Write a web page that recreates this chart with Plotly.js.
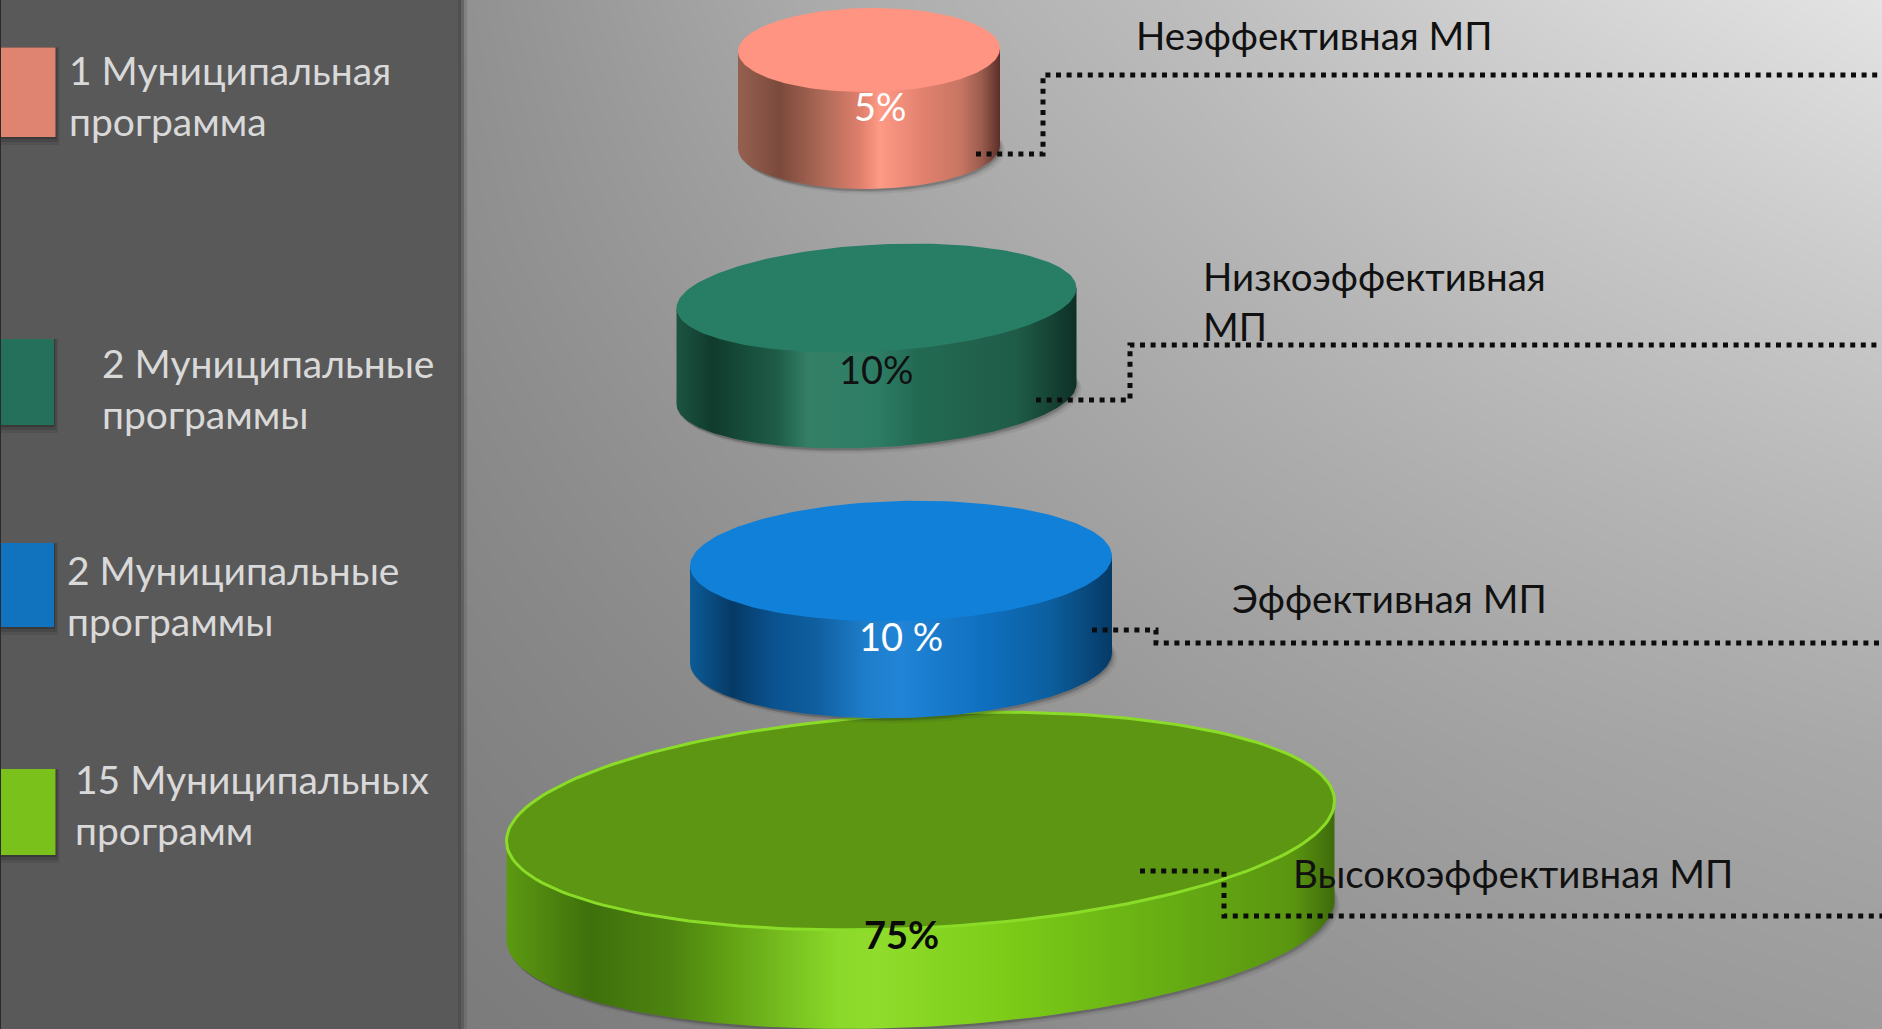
<!DOCTYPE html>
<html><head><meta charset="utf-8">
<script src="https://cdn.plot.ly/plotly-3.0.1.min.js"></script>
<style>html,body{margin:0;padding:0;background:#8f8f8f;overflow:hidden}#chart{width:1882px;height:1029px}</style>
</head><body><div id="chart"></div>
<script>
// ---- chart content ----
const categories = ['Неэффективная МП', 'Низкоэффективная<br>МП', 'Эффективная МП', 'Высокоэффективная МП'];
const shares = ['5%', '10%', '10 %', '75%'];
const programmeLabels = ['1 Муниципальная<br>программа', '2 Муниципальные<br>программы', '2 Муниципальные<br>программы', '15 Муниципальных<br>программ'];

// ---- styling ----
const topColors = ['#fe9481', '#287d65', '#1180d8', '#5c9613'];
const swatchColors = ['#e08472', '#25705a', '#1173bd', '#7ac11c'];
const shareColors = ['#ffffff', '#111111', '#ffffff', '#0a0a0a'];
const sideScales = [
  [[0,'#96604f'],[0.16,'#7b4a3c'],[0.33,'#b06a58'],[0.47,'#e0806d'],[0.54,'#fe9a86'],[0.7,'#e2826f'],[0.85,'#c87563'],[0.93,'#9a5c4e'],[1,'#5c2e28']],
  [[0,'#1c5441'],[0.09,'#103b2d'],[0.25,'#1e5c48'],[0.33,'#348066'],[0.5,'#2d7d65'],[0.6,'#236a53'],[0.85,'#1f5c48'],[1,'#0e3026']],
  [[0,'#0c5c97'],[0.1,'#063a66'],[0.2,'#0a5290'],[0.3,'#0f5f9f'],[0.42,'#1f7ecb'],[0.5,'#2184d6'],[0.7,'#0f6fbf'],[0.85,'#0c5f9f'],[1,'#063a66']],
  [[0,'#5d9a12'],[0.1,'#3f700c'],[0.2,'#4d8410'],[0.27,'#62a214'],[0.4,'#8bd92a'],[0.45,'#90dc2c'],[0.6,'#7ccc18'],[0.8,'#66ad13'],[0.95,'#5a9510'],[1,'#3f6b0b']]
];

// ---- page geometry (pixel layout of the slide) ----
const discCx = [869, 876.5, 901, 920.5];
const discCy = [50, 298, 561, 821];
const discRx = [131, 200, 211, 414];
const discRy = [42, 53.5, 60, 107];
const discTilt = [-1.5, -10, -5, -20];
const discDepth = [97, 96, 97, 99];
const drawOrder = [3, 2, 1, 0];
const swatchTop = [47.5, 339, 543, 769];
const swatchBottom = [137, 425, 627, 855];
const swatchRight = [55.5, 54, 54, 55.5];
const programmeX = [67, 100, 65, 73];
const programmeY = [95, 388, 595, 804];
const categoryX = [1134, 1201, 1230, 1291];
const categoryY = [35, 301, 598, 873];
const shareX = [880, 876, 901, 901];
const shareY = [106, 369, 635.5, 934];
const leaderX = [[976,1043,1043,1882],[1036,1130,1130,1882],[1092,1156,1156,1882],[1140,1224,1224,1882]];
const leaderY = [[154,154,75,75],[400,400,345,345],[630,630,643,643],[871,871,916,916]];
const bgX = [-50, 470, 800, 1200, 1500, 1930];
const bgY = [-50, 250, 500, 750, 1080];
const bgGray = [
  [142,146,172,192,212,234],
  [138,142,160,178,192,208],
  [132,136,150,166,176,188],
  [126,130,140,154,162,170],
  [118,122,130,142,148,154]
];

function disc(i, from, to, dy, n) {
  const xs = [], ys = [];
  for (let k = 0; k <= n; k++) {
    const t = from + (to - from) * k / n;
    xs.push(discCx[i] + discRx[i] * Math.cos(t));
    ys.push(discCy[i] + dy + discRy[i] * Math.sin(t) + discTilt[i] * Math.cos(t));
  }
  return [xs, ys];
}

const traces = [{
  type: 'heatmap', x: bgX, y: bgY, z: bgGray, zmin: 0, zmax: 255, zsmooth: 'best',
  colorscale: [[0,'#000000'],[1,'#ffffff']], showscale: false, hoverinfo: 'skip'
}];

drawOrder.forEach(i => {
  // soft contact shadow
  [[5,5,0.07],[3,3,0.12],[1,2,0.18]].forEach(([ox, oy, a]) => {
    const [sx, sy] = disc(i, 0, 2 * Math.PI, discDepth[i] + oy, 120);
    traces.push({type:'scatter', mode:'lines', x: sx.map(v => v + ox), y: sy, fill:'toself',
      fillcolor:`rgba(30,30,30,${a})`, line:{width:0}, hoverinfo:'skip', showlegend:false});
  });
  // wall: lower half of the bottom rim, then back along the widest line of the top face
  const [bx, by] = disc(i, Math.PI, 0, discDepth[i], 120);
  const [ex, ey] = disc(i, 0, Math.PI, 0, 1);
  traces.push({type:'scatter', mode:'lines', x: bx.concat(ex), y: by.concat(ey), fill:'toself',
    fillcolor: topColors[i],
    fillgradient:{type:'horizontal', colorscale: sideScales[i], start: discCx[i] - discRx[i], stop: discCx[i] + discRx[i]},
    line:{width:0}, hoverinfo:'skip', showlegend:false, name: categories[i]});
  const [tx, ty] = disc(i, 0, 2 * Math.PI, 0, 180);
  traces.push({type:'scatter', mode:'lines', x: tx, y: ty, fill:'toself', fillcolor: topColors[i],
    line: i === 3 ? {width:3, color:'#8bdc28'} : {width:0}, hoverinfo:'skip', showlegend:false});
});

categories.forEach((c, i) => {
  traces.push({type:'scatter', mode:'lines', x: leaderX[i], y: leaderY[i],
    line:{color:'#0c0c0c', width:5, dash:'5px,5.6px'}, hoverinfo:'skip', showlegend:false});
});

const shapes = [
  {type:'rect', xref:'x', yref:'y', x0:0, x1:467, y0:0, y1:1029, line:{width:0}, fillcolor:'rgba(70,70,70,0.22)', layer:'above'},
  {type:'rect', xref:'x', yref:'y', x0:0, x1:464, y0:0, y1:1029, line:{width:0}, fillcolor:'rgba(70,70,70,0.45)', layer:'above'},
  {type:'rect', xref:'x', yref:'y', x0:0, x1:461, y0:0, y1:1029, line:{width:0}, fillcolor:'rgba(76,76,76,0.85)', layer:'above'},
  {type:'rect', xref:'x', yref:'y', x0:0, x1:458, y0:0, y1:1029, line:{width:0}, fillcolor:'#595959', layer:'above'},
  {type:'rect', xref:'x', yref:'y', x0:0, x1:1, y0:0, y1:1029, line:{width:0}, fillcolor:'#2b2b2b', layer:'above'}
];
swatchColors.forEach((col, i) => {
  [[8,0.10],[5,0.16],[2,0.28]].forEach(([d, a]) => {
    shapes.push({type:'rect', xref:'x', yref:'y', x0:1, x1:swatchRight[i] + d * 0.5, y0:swatchTop[i], y1:swatchBottom[i] + d,
      line:{width:0}, fillcolor:`rgba(20,20,20,${a})`, layer:'above'});
  });
  shapes.push({type:'rect', xref:'x', yref:'y', x0:1, x1:swatchRight[i], y0:swatchTop[i], y1:swatchBottom[i],
    line:{width:0}, fillcolor:col, layer:'above'});
});

const FONT = 'Lato, "Open Sans", "Noto Sans", sans-serif';
const annotations = [];
programmeLabels.forEach((t, i) => annotations.push({xref:'x', yref:'y', x:programmeX[i], y:programmeY[i], text:t, showarrow:false,
  xanchor:'left', yanchor:'middle', align:'left', font:{family:FONT, size:39, color:'#d9d9d9'}}));
categories.forEach((t, i) => annotations.push({xref:'x', yref:'y', x:categoryX[i], y:categoryY[i], text:t, showarrow:false,
  xanchor:'left', yanchor:'middle', align:'left', font:{family:FONT, size:38.5, color:'#111111'}}));
shares.forEach((t, i) => annotations.push({xref:'x', yref:'y', x:shareX[i], y:shareY[i], text: i === 3 ? '<b>' + t + '</b>' : t, showarrow:false,
  xanchor:'center', yanchor:'middle', font:{family:FONT, size:38, color:shareColors[i]}}));

Plotly.newPlot('chart', traces, {
  width:1882, height:1029, margin:{l:0,r:0,t:0,b:0}, showlegend:false,
  paper_bgcolor:'#8f8f8f', plot_bgcolor:'rgba(0,0,0,0)',
  xaxis:{range:[0,1882], visible:false, fixedrange:true},
  yaxis:{range:[1029,0], visible:false, fixedrange:true},
  shapes, annotations
}, {displayModeBar:false, staticPlot:true});
</script></body></html>
